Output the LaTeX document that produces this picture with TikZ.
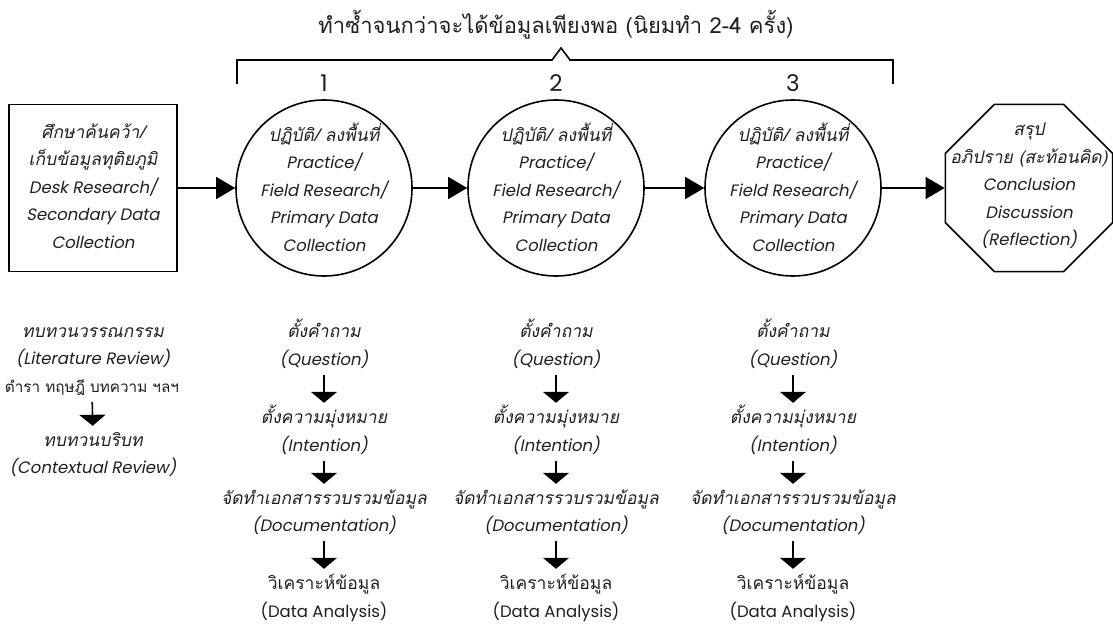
\documentclass[tikz,border=0pt]{standalone}
\usepackage{fontspec}
\usepackage{graphicx}
\usetikzlibrary{arrows.meta,shapes.geometric}
\newfontfamily\thaiup[Script=Thai]{Loma}
\newfontfamily\thaislant[Script=Thai,FakeSlant=0.2]{Loma}
\newfontfamily\latup{Poppins}
\newfontfamily\latslant[FakeSlant=0.2]{Poppins}
% size-aware shortcuts for the four text faces
\newcommand\thr{\fontsize{17.5bp}{27.5bp}\selectfont\thaiup}
\newcommand\thi{\fontsize{17.5bp}{27.5bp}\selectfont\thaislant}
\newcommand\lar{\fontsize{16.5bp}{27.5bp}\selectfont\latup}
\newcommand\lai{\fontsize{16.5bp}{27.5bp}\selectfont\latslant}

\begin{document}
\begin{tikzpicture}[x=1bp,y=-1bp,
  every node/.style={inner sep=0pt,text=black!88},
  shapeline/.style={draw=black,line width=1.6bp},
  flow/.style={line width=1.6bp,-{Triangle[length=19bp,width=22bp]}},
  down/.style={line width=1.6bp,-{Triangle[length=11bp,width=26bp]},
               shorten <=5bp,shorten >=8bp},
  boxtext/.style={align=center,font=\lar},
  item/.style={text height=12bp,text depth=5bp,anchor=base},
  numlabel/.style={font=\fontsize{23bp}{24bp}\selectfont\latup},
]
\useasboundingbox (0,0) rectangle (1113,641);

% heading and bracket over the three field rounds
\node[font=\fontsize{22bp}{24bp}\selectfont\thaiup] (repeat) at (556,25)
  {ทำซ้ำจนกว่าจะได้ข้อมูลเพียงพอ (นิยมทำ 2-4 ครั้ง)};
\draw[line width=1.6bp,line join=miter]
  (237,84) -- (237,60) -- (552,60) -- (561,48) -- (570,60) -- (893,60) -- (893,84);

\node[numlabel] (n1) at (324,83) {1};
\node[numlabel] (n2) at (556,83) {2};
\node[numlabel] (n3) at (793,83) {3};

% main process shapes
\node[shapeline,rectangle,minimum width=168bp,minimum height=167bp] (desk) at (93,188) {};
\node[shapeline,circle,minimum size=176bp] (p1) at (324,188) {};
\node[shapeline,circle,minimum size=176bp] (p2) at (556,188) {};
\node[shapeline,circle,minimum size=176bp] (p3) at (793,188) {};
\node[shapeline,regular polygon,regular polygon sides=8,minimum size=181bp] (concl) at (1029,188) {};

\node[boxtext] (desktxt) at (93,186)
  {\thi ศึกษาค้นคว้า/\\\thi เก็บข้อมูลทุติยภูมิ\\\lai Desk Research/\\\lai Secondary Data\\\lai Collection};
\foreach \i/\x in {1/324,2/556,3/793}{
  \node[boxtext] (p\i txt) at (\x,187)
    {\thi ปฏิบัติ/ ลงพื้นที่\\\lai Practice/\\\lai Field Research/\\\lai Primary Data\\\lai Collection};
}
\node[boxtext] (concltxt) at (1029,186)
  {\thi สรุป\\\thi อภิปราย (สะท้อนคิด)\\\lai Conclusion\\\lai Discussion\\\lai (Reflection)};

\draw[flow] (desk) -- (p1);
\draw[flow] (p1) -- (p2);
\draw[flow] (p2) -- (p3);
\draw[flow] (p3) -- (concl);

% review column under the desk research box
\node[item,font=\thi] (litth) at (93,337) {ทบทวนวรรณกรรม};
\node[item,font=\lai] (liten) at (93,364) {(Literature Review)};
\node[item,font=\fontsize{16bp}{27.5bp}\selectfont\thaiup] (texts) at (92,392)
  {\resizebox{174bp}{!}{ตำรา ทฤษฎี บทความ ฯลฯ}};
\node[item,font=\thi] (ctxth) at (93,446) {ทบทวนบริบท};
\node[item,font=\lai] (ctxen) at (93,473) {(Contextual Review)};
\draw[down] (texts) -- (ctxth);

% steps under each field round
\foreach \i/\x in {1/324,2/556,3/793}{
  \node[item,font=\thi] (qth\i) at (\x,337) {ตั้งคำถาม};
  \node[item,font=\lai] (qen\i) at (\x,365) {(Question)};
  \node[item,font=\thi] (ith\i) at (\x,423) {ตั้งความมุ่งหมาย};
  \node[item,font=\lai] (ien\i) at (\x,451) {(Intention)};
  \node[item,font=\thi] (dth\i) at (\x,504) {จัดทำเอกสารรวบรวมข้อมูล};
  \node[item,font=\lai] (den\i) at (\x,531) {(Documentation)};
  \node[item,font=\thr] (ath\i) at (\x,589) {วิเคราะห์ข้อมูล};
  \node[item,font=\lar] (aen\i) at (\x,617) {(Data Analysis)};
  \draw[down] (qen\i) -- (ith\i);
  \draw[down] (ien\i) -- (dth\i);
  \draw[down] (den\i) -- (ath\i);
}
\end{tikzpicture}
\end{document}
